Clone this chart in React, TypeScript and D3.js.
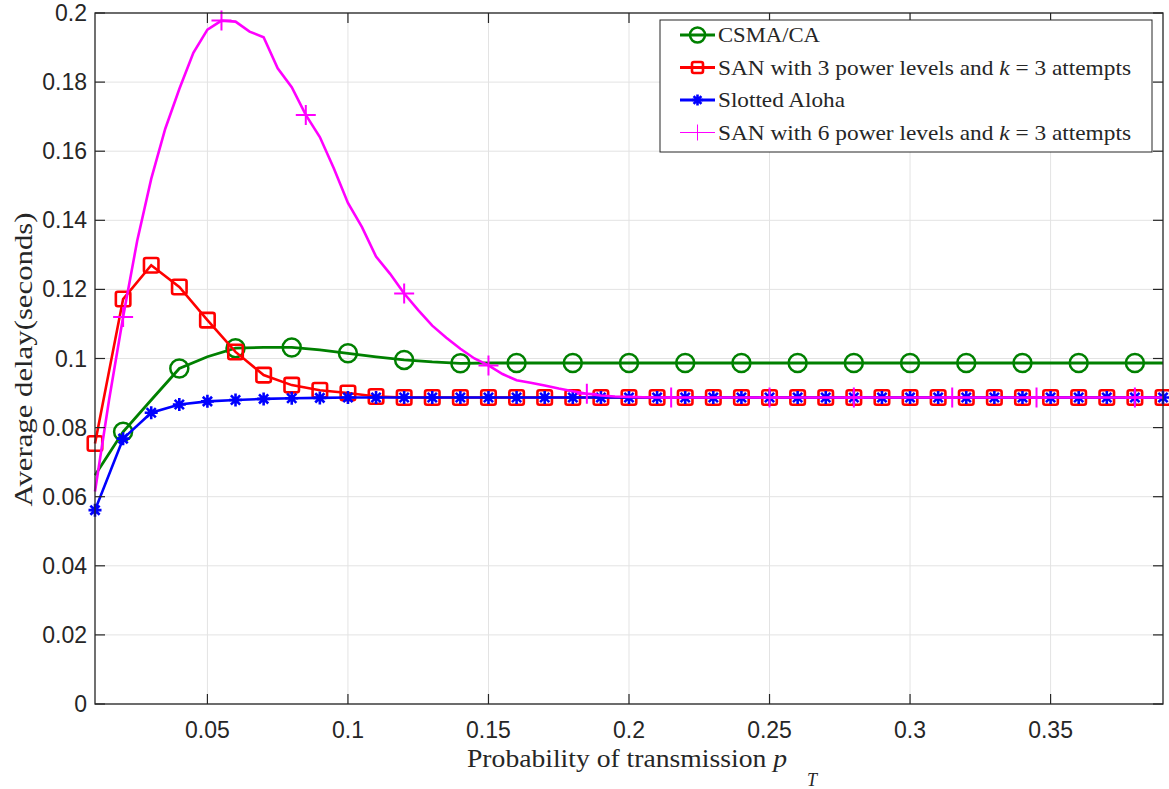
import React from 'react';
import * as d3 from 'd3';

// x grid of the measured points (probability of transmission)
const pX = [0.01, 0.02, 0.03, 0.04, 0.05, 0.06, 0.07, 0.08, 0.09, 0.1, 0.11, 0.12, 0.13, 0.14, 0.15, 0.16, 0.17, 0.18, 0.19, 0.2,
  0.21, 0.22, 0.23, 0.24, 0.25, 0.26, 0.27, 0.28, 0.29, 0.3, 0.31, 0.32, 0.33, 0.34, 0.35, 0.36, 0.37, 0.38, 0.39];

const csma = [0.0662, 0.0788, 0.088, 0.0971, 0.1005, 0.103, 0.1032, 0.1032, 0.1025, 0.1015, 0.1005, 0.0996, 0.099, 0.0986, 0.0987,
  0.0987, 0.0987, 0.0987, 0.0987, 0.0987, 0.0987, 0.0987, 0.0987, 0.0987, 0.0987, 0.0987, 0.0987, 0.0987, 0.0987, 0.0987,
  0.0987, 0.0987, 0.0987, 0.0987, 0.0987, 0.0987, 0.0987, 0.0987, 0.0987];

const san3 = [0.0754, 0.1172, 0.127, 0.1207, 0.1111, 0.1019, 0.0952, 0.0923, 0.0908, 0.09, 0.089, 0.0887, 0.0887, 0.0887, 0.0887,
  0.0887, 0.0887, 0.0887, 0.0887, 0.0887, 0.0887, 0.0887, 0.0887, 0.0887, 0.0887, 0.0887, 0.0887, 0.0887, 0.0887, 0.0887,
  0.0887, 0.0887, 0.0887, 0.0887, 0.0887, 0.0887, 0.0887, 0.0887, 0.0887];

const aloha = [0.0561, 0.0768, 0.0843, 0.0867, 0.0876, 0.088, 0.0883, 0.0885, 0.0886, 0.0887, 0.0887, 0.0887, 0.0887, 0.0887, 0.0887,
  0.0887, 0.0887, 0.0887, 0.0887, 0.0887, 0.0887, 0.0887, 0.0887, 0.0887, 0.0887, 0.0887, 0.0887, 0.0887, 0.0887, 0.0887,
  0.0887, 0.0887, 0.0887, 0.0887, 0.0887, 0.0887, 0.0887, 0.0887, 0.0887];

// SAN 6 levels is sampled twice as finely
const san6X = d3.range(0, 77).map(i => +(0.01 + i * 0.005).toFixed(3));
const san6 = [0.0615, 0.088, 0.112, 0.134, 0.152, 0.1665, 0.178, 0.1885, 0.1952, 0.1978, 0.1975, 0.1946, 0.193, 0.184, 0.1785,
  0.1705, 0.1641, 0.155, 0.145, 0.138, 0.1295, 0.1245, 0.1188, 0.114, 0.1095, 0.106, 0.1028, 0.1, 0.098, 0.0955,
  0.0937, 0.093, 0.0922, 0.0913, 0.0905, 0.0898, 0.0893, 0.089, 0.0889, 0.0888, 0.0887, 0.0887, 0.0887, 0.0887, 0.0887,
  0.0887, 0.0887, 0.0887, 0.0887, 0.0887, 0.0887, 0.0887, 0.0887, 0.0887, 0.0887, 0.0887, 0.0887, 0.0887, 0.0887, 0.0887,
  0.0887, 0.0887, 0.0887, 0.0887, 0.0887, 0.0887, 0.0887, 0.0887, 0.0887, 0.0887, 0.0887, 0.0887, 0.0887, 0.0887, 0.0887,
  0.0887, 0.0887];
const san6MarkX = [0.02, 0.055, 0.085, 0.12, 0.15, 0.185, 0.215, 0.25, 0.28, 0.315, 0.345, 0.38];

const xTicks = [0.05, 0.1, 0.15, 0.2, 0.25, 0.3, 0.35];
const yTicks = [0, 0.02, 0.04, 0.06, 0.08, 0.1, 0.12, 0.14, 0.16, 0.18, 0.2];

const W = 1169, H = 789;
const left = 95, right = 1163, top = 13, bottom = 704;
const ink = '#262626';
const sans = '"Liberation Sans", Arial, sans-serif';
const serif = '"Liberation Serif", "Times New Roman", serif';

const GREEN = '#008000', RED = '#ff0000', BLUE = '#0000ff', MAGENTA = '#ff00ff';

const Circle = ({ x, y, r = 9, w = 2.5 }) => <circle cx={x} cy={y} r={r} fill="none" stroke={GREEN} strokeWidth={w} />;
const Square = ({ x, y, s = 14.5, w = 2.6 }) =>
  <rect x={x - s / 2} y={y - s / 2} width={s} height={s} rx={2} fill="none" stroke={RED} strokeWidth={w} />;
const Star = ({ x, y, s = 6.5, w = 2.6 }) => {
  const d = s * 0.71;
  return (
    <path d={`M${x - s},${y}L${x + s},${y}M${x},${y - s}L${x},${y + s}M${x - d},${y - d}L${x + d},${y + d}M${x - d},${y + d}L${x + d},${y - d}`}
      stroke={BLUE} strokeWidth={w} fill="none" />
  );
};
const Plus = ({ x, y, s = 10, w = 2 }) =>
  <path d={`M${x - s},${y}L${x + s},${y}M${x},${y - s}L${x},${y + s}`} stroke={MAGENTA} strokeWidth={w} fill="none" />;

const App = () => {
  const x = d3.scaleLinear().domain([0.01, 0.39]).range([left, right]);
  const y = d3.scaleLinear().domain([0, 0.2]).range([bottom, top]);
  const line = d3.line<[number, number]>().x(d => x(d[0])).y(d => y(d[1]));

  const pts = (xs: number[], ys: number[]) => xs.map((v, i) => [v, ys[i]] as [number, number]);
  const green = pts(pX, csma);
  const red = pts(pX, san3);
  const blue = pts(pX, aloha);
  const mag = pts(san6X, san6);

  const legend = [
    { label: 'CSMA/CA', kind: 'c', len: 102 },
    { label: 'SAN3', kind: 's', len: 413 },
    { label: 'Slotted Aloha', kind: 'a', len: 127 },
    { label: 'SAN6', kind: 'p', len: 413 },
  ];
  const lgX = 660, lgY = 20, lgW = 492, lgH = 132;

  return (
    <svg width={W} height={H} style={{ position: 'absolute', left: 0, top: 0, background: '#fff' }}>
      {/* grid */}
      {xTicks.map(t => <line key={'gx' + t} x1={x(t)} x2={x(t)} y1={top} y2={bottom} stroke="#e3e3e3" strokeWidth={1} />)}
      {yTicks.map(t => <line key={'gy' + t} x1={left} x2={right} y1={y(t)} y2={y(t)} stroke="#e3e3e3" strokeWidth={1} />)}

      {/* series */}
      <path d={line(green)!} fill="none" stroke={GREEN} strokeWidth={2.8} />
      {green.filter((_, i) => i % 2 === 1).map((d, i) => <Circle key={'c' + i} x={x(d[0])} y={y(d[1])} />)}
      <path d={line(red)!} fill="none" stroke={RED} strokeWidth={2.6} />
      {red.map((d, i) => <Square key={'s' + i} x={x(d[0])} y={y(d[1])} />)}
      <path d={line(blue)!} fill="none" stroke={BLUE} strokeWidth={2.6} />
      {blue.map((d, i) => <Star key={'a' + i} x={x(d[0])} y={y(d[1])} />)}
      <path d={line(mag)!} fill="none" stroke={MAGENTA} strokeWidth={2.6} />
      {mag.filter(d => san6MarkX.includes(d[0])).map((d, i) => <Plus key={'p' + i} x={x(d[0])} y={y(d[1])} />)}

      {/* box and ticks */}
      <rect x={left} y={top} width={right - left} height={bottom - top} fill="none" stroke={ink} strokeWidth={1.3} />
      {xTicks.map(t => (
        <g key={'tx' + t}>
          <line x1={x(t)} x2={x(t)} y1={bottom} y2={bottom - 10} stroke={ink} strokeWidth={1.2} />
          <line x1={x(t)} x2={x(t)} y1={top} y2={top + 10} stroke={ink} strokeWidth={1.2} />
          <text x={x(t)} y={bottom + 34} textAnchor="middle" fontFamily={sans} fontSize={23} fill={ink}>{String(t)}</text>
        </g>
      ))}
      {yTicks.map(t => (
        <g key={'ty' + t}>
          <line x1={left} x2={left + 10} y1={y(t)} y2={y(t)} stroke={ink} strokeWidth={1.2} />
          <line x1={right} x2={right - 10} y1={y(t)} y2={y(t)} stroke={ink} strokeWidth={1.2} />
          <text x={left - 8} y={y(t) + 8} textAnchor="end" fontFamily={sans} fontSize={23} fill={ink}>{String(t)}</text>
        </g>
      ))}

      {/* axis labels */}
      <text x={467} y={767} fontFamily={serif} fontSize={25} fill={ink} textLength={320} lengthAdjust="spacingAndGlyphs">
        Probability of transmission <tspan fontStyle="italic">p</tspan>
      </text>
      <text x={807} y={786} fontFamily={serif} fontSize={18} fontStyle="italic" fill={ink}>T</text>
      <text transform={`translate(32,${(top + bottom) / 2 + 1}) rotate(-90)`} textAnchor="middle" fontFamily={serif} fontSize={25}
        fill={ink} textLength={294} lengthAdjust="spacingAndGlyphs">
        Average delay(seconds)
      </text>

      {/* legend */}
      <rect x={lgX} y={lgY} width={lgW} height={lgH} fill="#fff" stroke={ink} strokeWidth={1} />
      {legend.map((l, i) => {
        const cy = 35 + i * 32.5;
        const color = l.kind === 'c' ? GREEN : l.kind === 's' ? RED : l.kind === 'a' ? BLUE : MAGENTA;
        return (
          <g key={l.label}>
            <line x1={680} x2={715} y1={cy} y2={cy} stroke={color} strokeWidth={l.kind === 'p' ? 1 : 2.8} />
            {l.kind === 'c' && <Circle x={697.5} y={cy} r={7.5} />}
            {l.kind === 's' && <Square x={697.5} y={cy} s={11} />}
            {l.kind === 'a' && <Star x={697.5} y={cy} s={5.5} />}
            {l.kind === 'p' && <Plus x={697.5} y={cy} s={8} w={1} />}
            <text x={718} y={cy + 7} fontFamily={serif} fontSize={22} fill={ink} textLength={l.len} lengthAdjust="spacingAndGlyphs">
              {l.kind === 's' || l.kind === 'p' ? (
                <>
                  {`SAN with ${l.kind === 's' ? 3 : 6} power levels and `}
                  <tspan fontStyle="italic">k</tspan>
                  {' = 3 attempts'}
                </>
              ) : l.label}
            </text>
          </g>
        );
      })}
    </svg>
  );
};

export default App;
